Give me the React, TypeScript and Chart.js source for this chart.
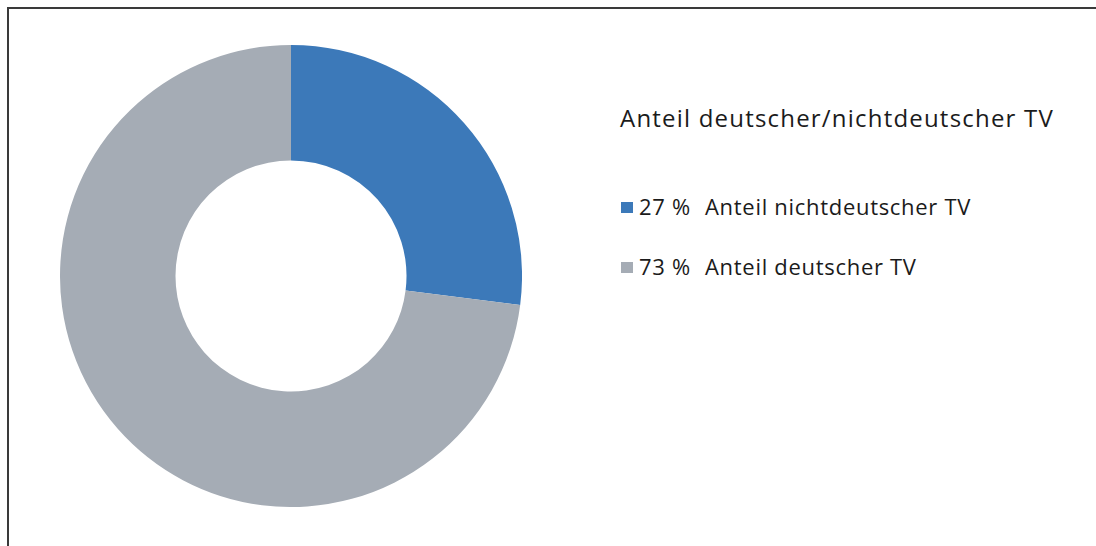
import React, { useEffect, useRef } from "react";
import { Chart, registerables } from "chart.js";

Chart.register(...registerables);

const title = "Anteil deutscher/nichtdeutscher TV";
const labels = ["Anteil nichtdeutscher TV", "Anteil deutscher TV"];
const values = [27, 73];
const colors = ["#3C79B9", "#A5ACB5"];

export default function App() {
  const ref = useRef<HTMLCanvasElement | null>(null);
  useEffect(() => {
    document.documentElement.style.overflow = "hidden";
    document.body.style.overflow = "hidden";
    if (!ref.current) return;
    const chart = new Chart(ref.current, {
      type: "doughnut",
      data: {
        labels,
        datasets: [
          {
            data: values,
            backgroundColor: colors,
            borderWidth: 0,
          },
        ],
      },
      options: {
        responsive: false,
        animation: false,
        cutout: "50%",
        layout: { padding: 0 },
        plugins: { legend: { display: false }, tooltip: { enabled: false } },
      },
    });
    return () => chart.destroy();
  }, []);

  const font = "'Open Sans', 'Noto Sans', sans-serif";
  return (
    <div style={{ position: "relative", width: 1080, height: 520, fontFamily: font, color: "#1b1b1b" }}>
      <div style={{ position: "fixed", left: 7, top: 7, right: 0, height: 2, background: "#3a3a3a" }} />
      <div style={{ position: "fixed", left: 7, top: 7, bottom: 0, width: 2, background: "#3a3a3a" }} />
      <canvas ref={ref} width={462} height={462} style={{ position: "absolute", left: 52, top: 37, width: 462, height: 462 }} />
      <div style={{ position: "absolute", left: 612, top: 95, fontSize: 24, lineHeight: "30px", letterSpacing: 1.2, whiteSpace: "pre" }}>{title}</div>
      {labels.map((l, i) => (
        <div key={l} style={{ position: "absolute", left: 612, top: 192 + i * 60, height: 28, width: 460 }}>
          <div style={{ position: "absolute", left: 1, top: 1.7, width: 12, height: 11.6, background: colors[i] }} />
          <div style={{ position: "absolute", left: 19, top: -9, fontSize: 22, lineHeight: "30px", letterSpacing: 0.7, whiteSpace: "pre" }}>{values[i] + " %"}</div>
          <div style={{ position: "absolute", left: 85, top: -9, fontSize: 22, lineHeight: "30px", letterSpacing: 0.7, whiteSpace: "pre" }}>{l}</div>
        </div>
      ))}
    </div>
  );
}
